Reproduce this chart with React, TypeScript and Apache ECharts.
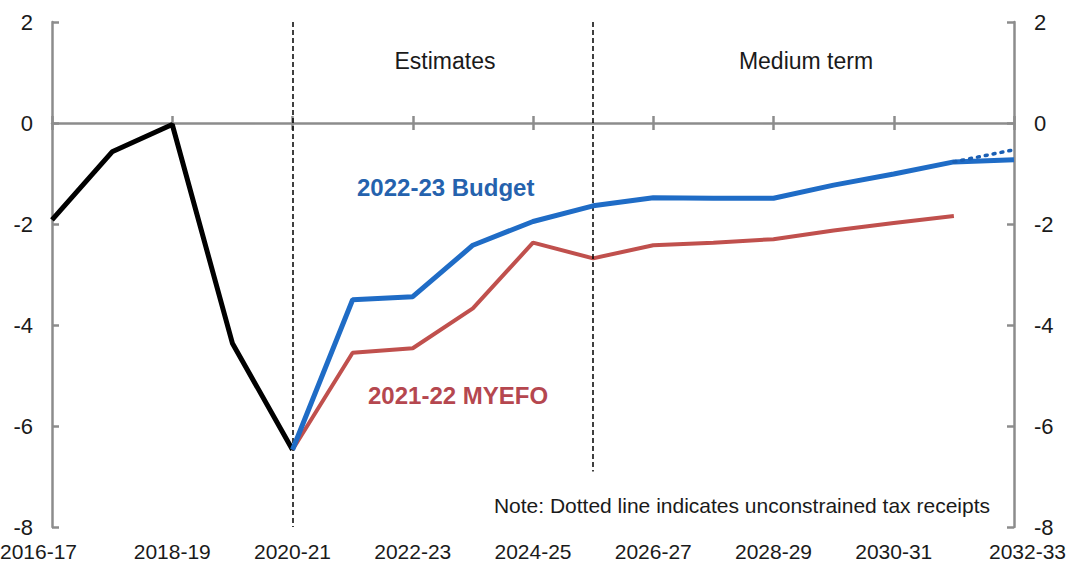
import React, { useEffect, useRef } from "react";
import * as echarts from "echarts";

const categories = [
  "2016-17", "2017-18", "2018-19", "2019-20", "2020-21", "2021-22", "2022-23", "2023-24",
  "2024-25", "2025-26", "2026-27", "2027-28", "2028-29", "2029-30", "2030-31", "2031-32", "2032-33",
];
const actual = [-1.92, -0.57, -0.03, -4.36, -6.47, null, null, null, null, null, null, null, null, null, null, null, null];
const budget = [null, null, null, null, -6.47, -3.5, -3.44, -2.42, -1.95, -1.64, -1.48, -1.49, -1.49, -1.23, -1.01, -0.77, -0.73];
const budgetUnconstrained = [null, null, null, null, null, null, null, null, null, null, null, null, null, null, null, -0.77, -0.53];
const myefo = [null, null, null, null, -6.47, -4.55, -4.46, -3.67, -2.37, -2.68, -2.42, -2.37, -2.3, -2.13, -1.98, -1.84, null];
const yMin = -8;
const yMax = 2;
const yInterval = 2;

const FONT = "'Liberation Sans', Arial, sans-serif";
const AXIS_GRAY = "#8c8c8c";
const TEXT = "#1a1a1a";

export default function App() {
  const ref = useRef<HTMLDivElement>(null);
  useEffect(() => {
    if (!ref.current) return;
    const chart = echarts.init(ref.current, undefined, { renderer: "svg" });
    const last = categories.length - 1;
    const yAxisCommon = {
      type: "value",
      min: yMin,
      max: yMax,
      interval: yInterval,
      splitLine: { show: false },
      axisLine: { show: true, lineStyle: { color: AXIS_GRAY, width: 2.5 } },
      axisTick: { show: true, inside: true, length: 7, lineStyle: { color: AXIS_GRAY, width: 2.5 } },
      axisLabel: { color: TEXT, fontSize: 22, fontFamily: FONT, margin: 19 },
    };
    chart.setOption({
      animation: false,
      backgroundColor: "#ffffff",
      grid: { left: 52, right: 54, top: 22, bottom: 45, containLabel: false, outerBoundsMode: "none" },
      xAxis: [
        {
          type: "category",
          data: categories,
          boundaryGap: false,
          position: "bottom",
          axisLine: { show: false, onZero: false },
          axisTick: { show: false },
          axisLabel: {
            interval: 1,
            margin: 14,
            color: TEXT,
            fontSize: 21,
            fontFamily: FONT,
            hideOverlap: false,
            formatter: (v: string, i: number) =>
              i === 0 ? `{a|${v}}` : i === last ? `{b|${v}}` : v,
            rich: {
              a: { fontSize: 21, fontFamily: FONT, color: TEXT, padding: [0, 27, 0, 0] },
              b: { fontSize: 21, fontFamily: FONT, color: TEXT, padding: [0, 0, 0, 27] },
            },
          },
        },
        {
          type: "category",
          data: categories,
          boundaryGap: false,
          position: "bottom",
          axisLine: { show: true, onZero: true, lineStyle: { color: AXIS_GRAY, width: 2.5 } },
          axisTick: { show: true, interval: 1, length: 7, lineStyle: { color: AXIS_GRAY, width: 2.5 } },
          axisLabel: { show: false },
        },
        {
          type: "category",
          data: categories,
          boundaryGap: false,
          position: "top",
          axisLine: { show: false, onZero: true },
          axisTick: { show: true, interval: 1, length: 7, lineStyle: { color: AXIS_GRAY, width: 2.5 } },
          axisLabel: { show: false },
        },
      ],
      yAxis: [
        { ...yAxisCommon, position: "left" },
        { ...yAxisCommon, position: "right", axisLabel: { ...yAxisCommon.axisLabel, margin: 20 } },
      ],
      series: [
        {
          name: "Dividers",
          type: "line",
          data: [],
          markLine: {
            silent: true,
            symbol: ["none", "none"],
            label: { show: false },
            lineStyle: { color: "#000000", width: 1.5, type: [5, 3] },
            data: [
              [{ coord: ["2020-21", yMax] }, { coord: ["2020-21", yMin] }],
              [{ coord: ["2025-26", yMax] }, { coord: ["2025-26", -6.9] }],
            ],
          },
        },
        {
          name: "Actual",
          type: "line",
          data: actual,
          symbol: "none",
          lineStyle: { color: "#000000", width: 5 },
          z: 3,
        },
        {
          name: "2021-22 MYEFO",
          type: "line",
          data: myefo,
          symbol: "none",
          lineStyle: { color: "#c0504d", width: 4 },
          z: 4,
        },
        {
          name: "2022-23 Budget",
          type: "line",
          data: budget,
          symbol: "none",
          lineStyle: { color: "#1f6cc6", width: 5 },
          z: 5,
        },
        {
          name: "Unconstrained",
          type: "line",
          data: budgetUnconstrained,
          symbol: "none",
          lineStyle: { color: "#1a5fb4", width: 3.5, type: [2, 6], cap: "round" },
          z: 6,
        },
      ],
      graphic: [
        {
          type: "text",
          x: 445,
          y: 61,
          style: { text: "Estimates", fill: TEXT, fontSize: 23, fontFamily: FONT, align: "center", verticalAlign: "middle", textAlign: "center", textVerticalAlign: "middle" },
        },
        {
          type: "text",
          x: 806,
          y: 61,
          style: { text: "Medium term", fill: TEXT, fontSize: 23, fontFamily: FONT, align: "center", verticalAlign: "middle", textAlign: "center", textVerticalAlign: "middle" },
        },
        {
          type: "text",
          x: 357,
          y: 187,
          style: { text: "2022-23 Budget", fill: "#2562ad", fontSize: 24, fontWeight: "bold", fontFamily: FONT, align: "left", verticalAlign: "middle", textAlign: "left", textVerticalAlign: "middle" },
        },
        {
          type: "text",
          x: 368,
          y: 395,
          style: { text: "2021-22 MYEFO", fill: "#b5474f", fontSize: 24, fontWeight: "bold", fontFamily: FONT, align: "left", verticalAlign: "middle", textAlign: "left", textVerticalAlign: "middle" },
        },
        {
          type: "text",
          x: 990,
          y: 505,
          style: { text: "Note: Dotted line indicates unconstrained tax receipts", fill: TEXT, fontSize: 21, fontFamily: FONT, align: "right", verticalAlign: "middle", textAlign: "right", textVerticalAlign: "middle" },
        },
      ],
    });
    return () => chart.dispose();
  }, []);
  return (
    <div
      ref={ref}
      style={{ position: "absolute", left: 0, top: 0, width: 1068, height: 572, background: "#fff" }}
    />
  );
}
